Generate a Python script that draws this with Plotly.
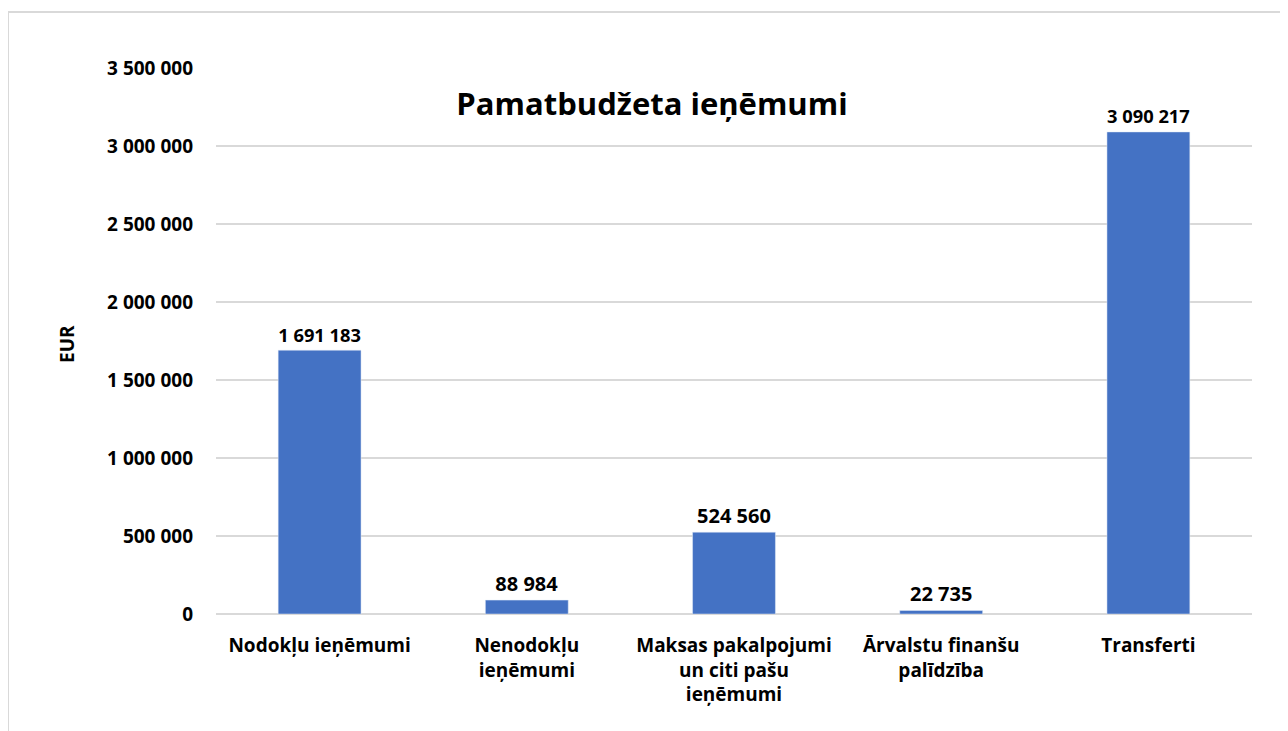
import plotly.graph_objects as go

categories = ["Nodokļu ieņēmumi", "Nenodokļu<br>ieņēmumi", "Maksas pakalpojumi<br>un citi pašu<br>ieņēmumi",
              "Ārvalstu finanšu<br>palīdzība", "Transferti"]
values = [1691183, 88984, 524560, 22735, 3090217]
tick_values = [0, 500000, 1000000, 1500000, 2000000, 2500000, 3000000, 3500000]

font = "Open Sans"
# page body has an 8px offset, so plot area is placed at 208..1244 x 60..606
L, R, T, B = 208, 1244, 60, 606
W, H = R - L, B - T

fig = go.Figure()
fig.add_bar(x=categories, y=values, marker=dict(color="#4472C4"),
            texttemplate="%{y:,d}", textposition="outside", cliponaxis=False,
            textfont=dict(family=font, size=20, color="#000000", weight="bold"))

fig.update_layout(
    width=1288, height=731,
    margin=dict(l=L, r=1288 - R, t=T, b=731 - B),
    paper_bgcolor="white", plot_bgcolor="white",
    separators=". ",
    bargap=0.6,
    showlegend=False,
    font=dict(family=font, color="#000000"),
    title=dict(text="<b>Pamatbudžeta ieņēmumi</b>", xref="paper", x=(644 - L) / W, xanchor="center",
               yref="container", y=1 - 96 / 731, yanchor="middle",
               font=dict(family=font, size=31, color="#000000")),
)
fig.update_yaxes(range=[0, 3500000], tickvals=tick_values, tickformat=",d",
                 showgrid=True, gridcolor="#d9d9d9", gridwidth=1.5,
                 zeroline=True, zerolinecolor="#d9d9d9", zerolinewidth=1.5,
                 showline=False, ticks="", ticklabelstandoff=22,
                 tickfont=dict(family=font, size=19, color="#000000", weight="bold"))
fig.update_xaxes(showline=False, ticks="", ticklabelstandoff=18,
                 tickfont=dict(family=font, size=19, color="#000000", weight="bold"))

fig.add_annotation(text="<b>EUR</b>", xref="paper", yref="paper", x=(59 - L) / W, y=(B - 336) / H,
                   xanchor="center", yanchor="middle",
                   textangle=-90, showarrow=False, font=dict(family=font, size=19, color="#000000"))

# chart frame
fig.add_shape(type="rect", xref="paper", yref="paper",
              x0=(0 - L) / W, x1=1.2, y0=-0.4, y1=1 + (T - 4) / H,
              line=dict(color="#d9d9d9", width=2), layer="below")

fig.write_html("out.html")
